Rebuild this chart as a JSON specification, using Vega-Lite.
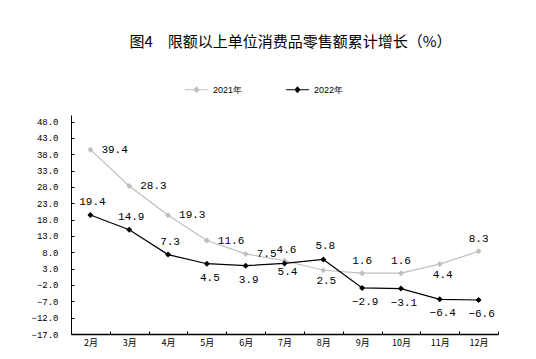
{
  "$schema": "https://vega.github.io/schema/vega-lite/v6.json",
  "width": 427,
  "height": 219,
  "autosize": {"type": "none"},
  "padding": {"left": 71, "top": 115, "right": 38, "bottom": 25},
  "background": "white",
  "title": {
    "text": "图4　限额以上单位消费品零售额累计增长（%）",
    "font": "Noto Sans CJK SC",
    "fontSize": 15,
    "fontWeight": "normal",
    "color": "#000000",
    "anchor": "middle",
    "frame": "group",
    "dx": 6,
    "baseline": "alphabetic",
    "offset": 15
  },
  "config": {
    "view": {"stroke": null},
    "axis": {"grid": false, "domainColor": "#000000", "tickColor": "#000000", "labelColor": "#000000", "title": null}
  },
  "data": {
    "values": [
      {"month": "2月", "year": "2021年", "v": 39.4},
      {"month": "3月", "year": "2021年", "v": 28.3},
      {"month": "4月", "year": "2021年", "v": 19.3},
      {"month": "5月", "year": "2021年", "v": 11.6},
      {"month": "6月", "year": "2021年", "v": 7.5},
      {"month": "7月", "year": "2021年", "v": 5.4},
      {"month": "8月", "year": "2021年", "v": 2.5},
      {"month": "9月", "year": "2021年", "v": 1.6},
      {"month": "10月", "year": "2021年", "v": 1.6},
      {"month": "11月", "year": "2021年", "v": 4.4},
      {"month": "12月", "year": "2021年", "v": 8.3},
      {"month": "2月", "year": "2022年", "v": 19.4},
      {"month": "3月", "year": "2022年", "v": 14.9},
      {"month": "4月", "year": "2022年", "v": 7.3},
      {"month": "5月", "year": "2022年", "v": 4.5},
      {"month": "6月", "year": "2022年", "v": 3.9},
      {"month": "7月", "year": "2022年", "v": 4.6},
      {"month": "8月", "year": "2022年", "v": 5.8},
      {"month": "9月", "year": "2022年", "v": -2.9},
      {"month": "10月", "year": "2022年", "v": -3.1},
      {"month": "11月", "year": "2022年", "v": -6.4},
      {"month": "12月", "year": "2022年", "v": -6.6}
    ]
  },
  "encoding": {
    "x": {
      "field": "month",
      "type": "ordinal",
      "sort": ["2月", "3月", "4月", "5月", "6月", "7月", "8月", "9月", "10月", "11月", "12月"],
      "scale": {"type": "band", "paddingInner": 0, "paddingOuter": 0},
      "axis": {
        "labelAngle": 0,
        "tickBand": "extent",
        "tickSize": -3,
        "labelPadding": 7,
        "labelFont": "Noto Sans CJK SC",
        "labelFontSize": 9,
        "domainWidth": 1.5
      }
    },
    "y": {
      "field": "v",
      "type": "quantitative",
      "scale": {"domain": [-17, 50], "nice": false, "zero": false},
      "axis": {
        "values": [-17, -12, -7, -2, 3, 8, 13, 18, 23, 28, 33, 38, 43, 48],
        "format": ".1f",
        "tickSize": -3,
        "labelPadding": 16,
        "labelFont": "Liberation Mono",
        "labelFontSize": 9,
        "domainWidth": 1
      }
    }
  },
  "layer": [
    {
      "mark": {"type": "line", "strokeWidth": 1.2, "point": {"shape": "diamond", "size": 36, "filled": true}},
      "encoding": {
        "color": {
          "field": "year",
          "type": "nominal",
          "scale": {"domain": ["2021年", "2022年"], "range": ["#BFBFBF", "#000000"]},
          "legend": {
            "orient": "none",
            "direction": "horizontal",
            "legendX": 113,
            "legendY": -38,
            "title": null,
            "symbolType": "M-1,0L1,0M-0.2,0L0,-0.22L0.2,0L0,0.22Z",
            "symbolSize": 529,
            "symbolStrokeWidth": 1.2,
            "labelFont": "Liberation Sans",
            "labelFontSize": 9,
            "labelColor": "#000000",
            "labelOffset": 4,
            "columnPadding": 40,
            "encode": {"symbols": {"update": {"fill": {"scale": "color", "field": "value"}}}}
          }
        }
      }
    },
    {
      "transform": [{"filter": "datum.year == '2021年'"}, {"filter": {"field": "month", "oneOf": ["2月", "3月", "4月", "5月", "6月"]}}],
      "mark": {"type": "text", "align": "left", "baseline": "middle", "dx": 11, "font": "Liberation Mono", "fontSize": 11, "color": "#000000"},
      "encoding": {"text": {"field": "v", "type": "quantitative", "format": ".1f"}}
    },
    {
      "transform": [{"filter": "datum.year == '2021年'"}, {"filter": {"field": "month", "oneOf": ["7月", "8月", "11月"]}}],
      "mark": {"type": "text", "align": "center", "baseline": "middle", "dy": 11, "dx": 3, "font": "Liberation Mono", "fontSize": 11, "color": "#000000"},
      "encoding": {"text": {"field": "v", "type": "quantitative", "format": ".1f"}}
    },
    {
      "transform": [{"filter": "datum.year == '2021年'"}, {"filter": {"field": "month", "oneOf": ["9月", "10月", "12月"]}}],
      "mark": {"type": "text", "align": "center", "baseline": "middle", "dy": -12, "font": "Liberation Mono", "fontSize": 11, "color": "#000000"},
      "encoding": {"text": {"field": "v", "type": "quantitative", "format": ".1f"}}
    },
    {
      "transform": [{"filter": "datum.year == '2022年'"}, {"filter": {"field": "month", "oneOf": ["2月", "3月", "4月", "7月", "8月"]}}],
      "mark": {"type": "text", "align": "center", "baseline": "middle", "dy": -13, "dx": 2, "font": "Liberation Mono", "fontSize": 11, "color": "#000000"},
      "encoding": {"text": {"field": "v", "type": "quantitative", "format": ".1f"}}
    },
    {
      "transform": [{"filter": "datum.year == '2022年'"}, {"filter": {"field": "month", "oneOf": ["5月", "6月", "9月", "10月", "11月", "12月"]}}],
      "mark": {"type": "text", "align": "center", "baseline": "middle", "dy": 14, "dx": 3, "font": "Liberation Mono", "fontSize": 11, "color": "#000000"},
      "encoding": {"text": {"field": "v", "type": "quantitative", "format": ".1f"}}
    }
  ]
}
